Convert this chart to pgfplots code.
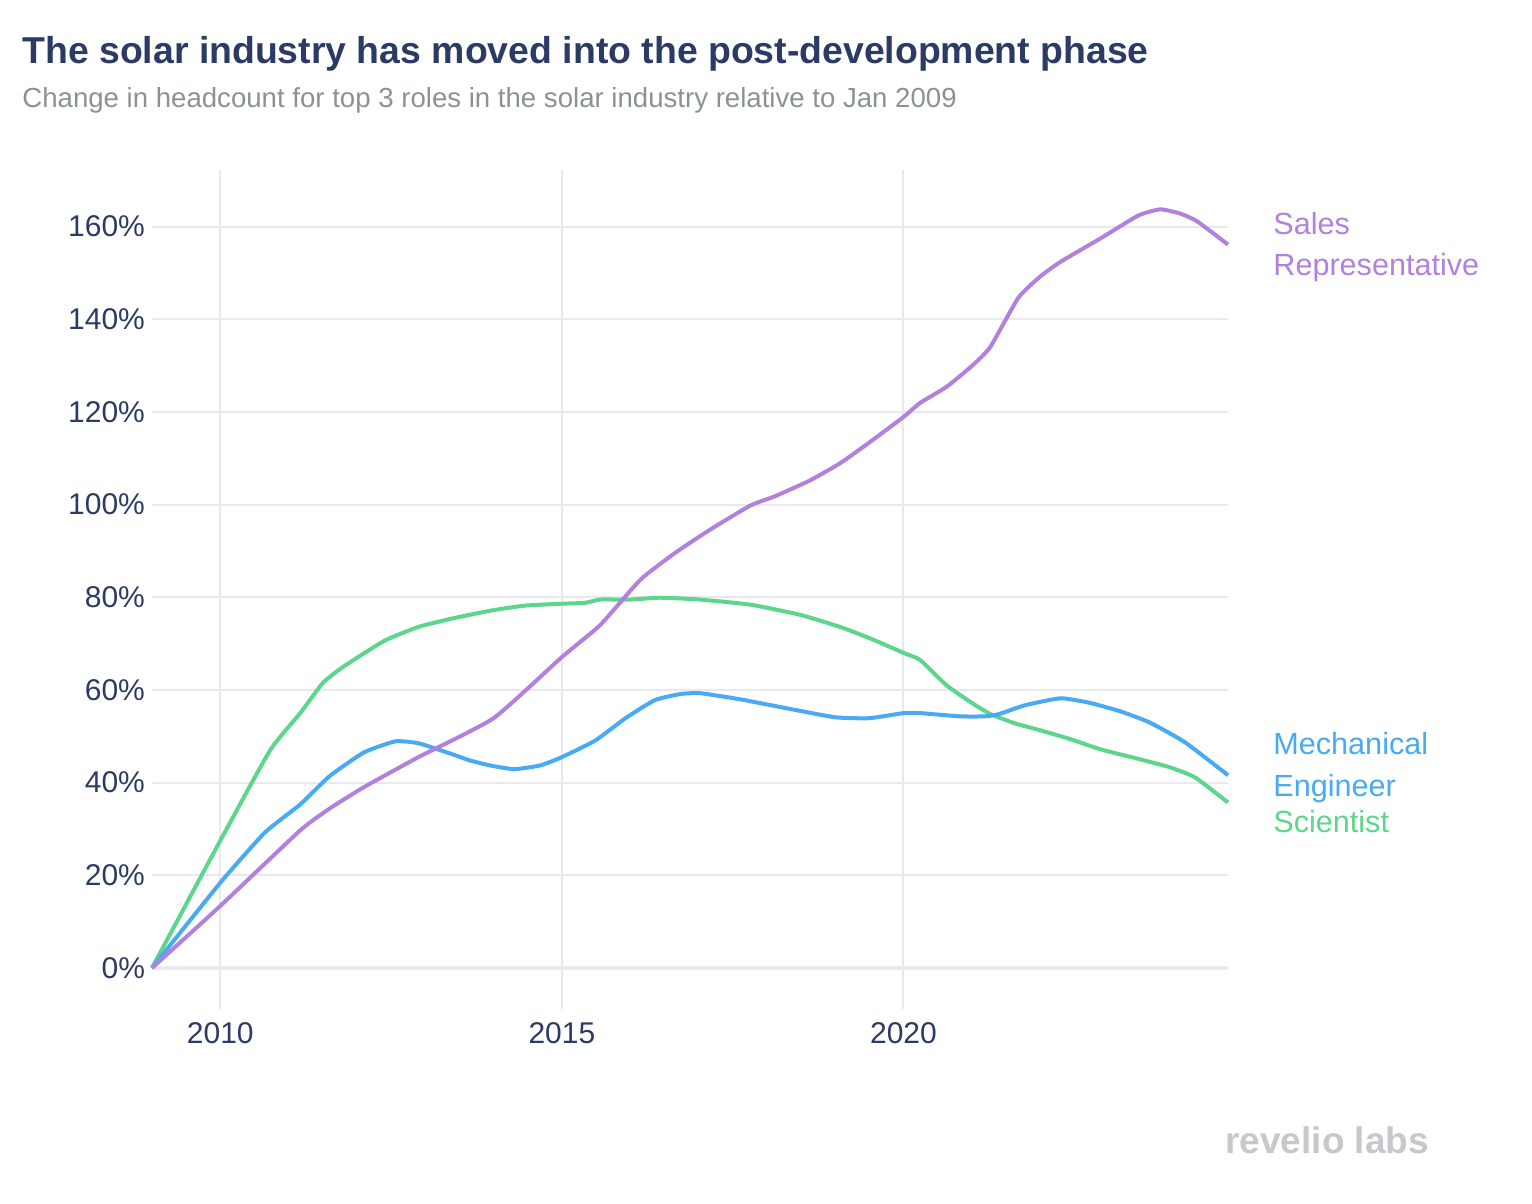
\documentclass[border=0pt]{standalone}
\usepackage{fontspec}
\setmainfont{Liberation Sans}
\usepackage{pgfplots}
\pgfplotsset{compat=1.18}
\definecolor{cPurple}{RGB}{178,128,222}
\definecolor{cBlue}{RGB}{72,170,242}
\definecolor{cGreen}{RGB}{92,214,140}
\definecolor{cGrid}{RGB}{232,232,238}
\definecolor{cNavy}{RGB}{43,59,101}
\definecolor{cSub}{RGB}{138,146,150}
\definecolor{cLogo}{RGB}{200,200,204}
\begin{document}
\begin{tikzpicture}
\useasboundingbox (0pt,0pt) rectangle (766pt,602pt);
\begin{axis}[
  at={(76pt,97.5pt)}, anchor=south west,
  scale only axis, width=538pt, height=419.5pt,
  xmin=2009, xmax=2024.75, ymin=-8.85, ymax=172.2,
  axis line style={draw=none},
  tick style={draw=none},
  xtick={2010,2015,2020},
  xticklabels={2010,2015,2020},
  ytick={0,20,40,60,80,100,120,140,160},
  yticklabel={\pgfmathprintnumber{\tick}\%},
  /pgf/number format/assume math mode=true,
  ticklabel style={text=cNavy, font=\fontsize{15}{17}\selectfont},
  xticklabel style={yshift=-3pt},
  grid=major,
  major grid style={draw=cGrid, line width=1pt},
  clip=false,
]
\draw[cGrid, line width=2pt] (axis cs:2009,0) -- (axis cs:2024.75,0);
\addplot[cGreen, line width=2pt, smooth, tension=0.3] coordinates {
(2009,0) (2010,27.5) (2010.73,47) (2011.17,55) (2011.5,61.5) (2011.8,65) (2012.4,70.6) (2012.9,73.6) (2013.36,75.3) (2013.95,77.1) (2014.46,78.2) (2015,78.6) (2015.34,78.8) (2015.56,79.5) (2016,79.5) (2016.44,79.9) (2017.02,79.5) (2017.76,78.4) (2018.49,76.2) (2019.07,73.6) (2019.5,71.2) (2020,68) (2020.24,66.5) (2020.63,61) (2021,57.2) (2021.27,54.8) (2021.63,52.8) (2022,51.3) (2022.44,49.4) (2022.88,47.2) (2023.47,45) (2023.9,43.3) (2024.27,41.1) (2024.75,35.7)
};
\addplot[cBlue, line width=2pt, smooth, tension=0.3] coordinates {
(2009,0) (2010,18.4) (2010.65,29.2) (2011.17,35.3) (2011.6,41.4) (2012.1,46.5) (2012.56,48.9) (2012.9,48.5) (2013.36,46.3) (2013.65,44.8) (2013.95,43.7) (2014.3,42.9) (2014.68,43.7) (2015,45.5) (2015.49,49.1) (2015.93,53.9) (2016.36,57.8) (2016.73,59.1) (2017.02,59.3) (2017.6,58) (2018.34,55.9) (2019,54.1) (2019.5,53.9) (2020,55) (2020.24,55) (2020.83,54.3) (2021.2,54.3) (2021.4,54.8) (2021.78,56.7) (2022.3,58.2) (2022.73,57.2) (2023.17,55.4) (2023.6,53) (2024.12,48.7) (2024.75,41.6)
};
\addplot[cPurple, line width=2pt, smooth, tension=0.3] coordinates {
(2009,0) (2010,13.4) (2011.17,29.7) (2011.6,34.4) (2012.1,39) (2012.9,45.5) (2014,53.9) (2015,67.1) (2015.56,74) (2016.15,83.8) (2016.66,89.6) (2017.17,94.6) (2017.76,99.8) (2018.12,101.8) (2018.63,105.2) (2019.07,108.9) (2019.5,113.4) (2020,118.9) (2020.24,121.9) (2020.63,125.4) (2021,129.9) (2021.27,134) (2021.68,144.6) (2022,149.2) (2022.3,152.4) (2022.88,157.4) (2023.44,162.4) (2023.76,163.7) (2024.05,162.8) (2024.3,161.1) (2024.75,156.1)
};
\end{axis}
\begin{scope}[x=0.5pt,y=0.5pt]
\node[anchor=base west, inner sep=0, text=cNavy, font=\fontsize{18.7}{22}\selectfont\bfseries] at (22,1204-64) {The solar industry has moved into the post-development phase};
\node[anchor=base west, inner sep=0, text=cSub, font=\fontsize{13.8}{16}\selectfont] at (22,1204-108) {Change in headcount for top 3 roles in the solar industry relative to Jan 2009};
\begin{scope}[every node/.style={anchor=base west, inner sep=0, font=\fontsize{15.3}{17}\selectfont}]
\node[text=cPurple] at (1273,1204-235) {Sales};
\node[text=cPurple] at (1273,1204-276) {Representative};
\node[text=cBlue] at (1273,1204-755) {Mechanical};
\node[text=cBlue] at (1273,1204-797) {Engineer};
\node[text=cGreen] at (1273,1204-833) {Scientist};
\end{scope}
\node[anchor=base west, inner sep=0, text=cLogo, font=\fontsize{18.5}{20}\selectfont\bfseries] at (1225,1204-1154) {revelio labs};
\end{scope}
\end{tikzpicture}
\end{document}
